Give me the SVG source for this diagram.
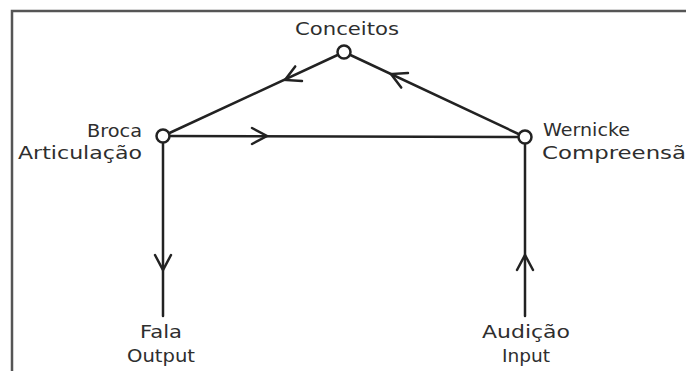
<svg xmlns="http://www.w3.org/2000/svg" xmlns:xlink="http://www.w3.org/1999/xlink" width="686" height="371" viewBox="0 0 686 371">
  <style>
    .frame { fill: none; stroke: #555; stroke-width: 2.5; }
    .edge { fill: none; stroke: #222; stroke-width: 2.5; stroke-linecap: round; }
    .head { fill: none; stroke: #222; stroke-width: 2.5; stroke-linecap: round; stroke-linejoin: miter; }
    .node { fill: #fff; stroke: #222; stroke-width: 2.5; }
    .lbl { font-family: "DejaVu Sans", "Liberation Sans", sans-serif; font-size: 18px; fill: #2e2e2e; }
  </style>
  <defs>
    <!-- open chevron arrowhead, tip at origin, pointing along +x -->
    <path id="chev" d="M-15,-8 L0,0 L-15,8"/>
  </defs>

  <rect width="686" height="371" fill="#fff"/>
  <!-- outer frame, running off the right and bottom edges -->
  <path class="frame" d="M12,380 L12,11 L700,11"/>

  <g id="connectors">
    <line class="edge" x1="344" y1="52" x2="163" y2="136"/>
    <line class="edge" x1="525" y1="137" x2="344" y2="52"/>
    <line class="edge" x1="163" y1="136" x2="525" y2="137"/>
    <line class="edge" x1="163" y1="136" x2="163" y2="316"/>
    <line class="edge" x1="525" y1="316" x2="525" y2="137"/>
    <use xlink:href="#chev" class="head" transform="translate(285,80) rotate(155)"/>
    <use xlink:href="#chev" class="head" transform="translate(391,74) rotate(205)"/>
    <use xlink:href="#chev" class="head" transform="translate(267,136) rotate(0)"/>
    <use xlink:href="#chev" class="head" transform="translate(163,270) rotate(90)"/>
    <use xlink:href="#chev" class="head" transform="translate(525,255) rotate(-90)"/>
  </g>

  <g id="conceitos">
    <circle class="node" cx="344" cy="52" r="6.5"/>
    <text class="lbl" x="295" y="35" textLength="104" lengthAdjust="spacingAndGlyphs">Conceitos</text>
  </g>

  <g id="broca">
    <circle class="node" cx="163" cy="136" r="6.5"/>
    <text class="lbl" x="87" y="137" textLength="55" lengthAdjust="spacingAndGlyphs">Broca</text>
    <text class="lbl" x="18" y="159" textLength="124" lengthAdjust="spacingAndGlyphs">Articulação</text>
  </g>

  <g id="wernicke">
    <circle class="node" cx="525" cy="137" r="6.5"/>
    <text class="lbl" x="543" y="136" textLength="87" lengthAdjust="spacingAndGlyphs">Wernicke</text>
    <text class="lbl" x="542" y="159" textLength="158" lengthAdjust="spacingAndGlyphs">Compreensão</text>
  </g>

  <g id="fala">
    <text class="lbl" x="140" y="338" textLength="42" lengthAdjust="spacingAndGlyphs">Fala</text>
    <text class="lbl" x="127" y="362" textLength="68" lengthAdjust="spacingAndGlyphs">Output</text>
  </g>

  <g id="audicao">
    <text class="lbl" x="482" y="338" textLength="88" lengthAdjust="spacingAndGlyphs">Audição</text>
    <text class="lbl" x="502" y="362" textLength="48" lengthAdjust="spacingAndGlyphs">Input</text>
  </g>
</svg>
